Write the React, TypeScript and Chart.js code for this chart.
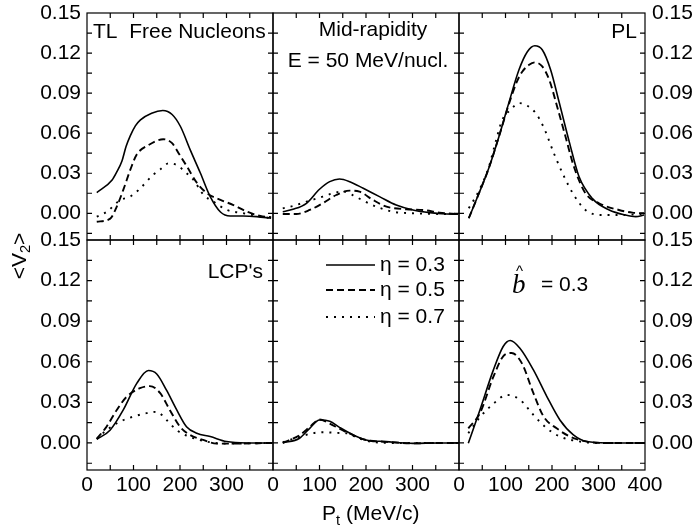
import React, { useEffect, useRef } from "react";
import { Chart, registerables } from "chart.js";

Chart.register(...registerables);

// ---------- ticks ----------
const X_TICKS = [0, 100, 200, 300, 400];
const X_MINOR = [50, 100, 150, 200, 250, 300, 350];
const Y_TICKS = [0, 0.03, 0.06, 0.09, 0.12, 0.15];
const Y_MINOR = [-0.015, 0, 0.015, 0.03, 0.045, 0.06, 0.075, 0.09, 0.105, 0.12, 0.135];
const ETA_LABELS = ["η = 0.3", "η = 0.5", "η = 0.7"];

type Pt = [number, number];

// ---------- TL free nucleons (top-left) ----------
const TL_ETA03: Pt[] = [[21, 0.0155], [54, 0.025], [64, 0.031], [75, 0.039], [84, 0.05], [93, 0.058], [104, 0.0655], [115, 0.07], [139, 0.075], [163, 0.077], [183, 0.074], [201, 0.065], [222, 0.0475], [244, 0.03], [265, 0.0125], [287, 0.001], [308, -0.002], [336, -0.002], [365, -0.0025], [396, -0.0037]];
const TL_ETA05: Pt[] = [[21, -0.0063], [50, -0.004], [64, 0.005], [78, 0.0175], [93, 0.0325], [107, 0.044], [132, 0.051], [164, 0.0555], [183, 0.0525], [197, 0.045], [215, 0.035], [237, 0.0225], [258, 0.015], [287, 0.01], [315, 0.0062], [344, 0.0012], [373, -0.002], [396, -0.003]];
const TL_ETA07: Pt[] = [[21, -0.0025], [42, 0.001], [72, 0.01], [93, 0.0125], [111, 0.0175], [143, 0.029], [158, 0.033], [176, 0.0375], [194, 0.036], [211, 0.031], [229, 0.025], [251, 0.0137], [272, 0.0087], [301, 0.0025], [337, 0], [373, -0.0025], [396, -0.0037]];

// ---------- Mid-rapidity free (top-middle) ----------
const MID_ETA03: Pt[] = [[21, 0.0012], [43, 0.003], [72, 0.0075], [100, 0.018], [122, 0.0237], [143, 0.0257], [165, 0.0237], [194, 0.0187], [229, 0.0125], [265, 0.0062], [301, 0.0025], [337, 0.0005], [373, -0.0005], [398, -0.0007]];
const MID_ETA05: Pt[] = [[21, -0.0005], [50, -0.0005], [79, 0.0025], [107, 0.0075], [136, 0.0137], [165, 0.017], [186, 0.0162], [215, 0.01], [244, 0.005], [287, 0.003], [323, 0.0025], [358, 0.0005], [398, -0.0007]];
const MID_ETA07: Pt[] = [[21, 0.0037], [43, 0.0055], [72, 0.0087], [107, 0.0125], [129, 0.015], [150, 0.0165], [172, 0.0135], [194, 0.0095], [222, 0.005], [258, 0.0012], [301, 0], [358, -0.0005], [398, -0.0007]];

// ---------- PL free (top-right) ----------
const PL_ETA03: Pt[] = [[21, -0.0037], [43, 0.015], [64, 0.0337], [86, 0.0575], [107, 0.0825], [129, 0.1075], [147, 0.121], [163, 0.1255], [179, 0.1225], [197, 0.1075], [215, 0.0837], [237, 0.0537], [258, 0.0275], [287, 0.011], [323, 0.0025], [358, -0.0013], [380, -0.0025], [398, -0.0013]];
const PL_ETA05: Pt[] = [[21, -0.0037], [43, 0.015], [64, 0.0337], [86, 0.0575], [107, 0.0815], [125, 0.099], [136, 0.106], [150, 0.111], [163, 0.113], [179, 0.11], [194, 0.1], [211, 0.08], [229, 0.0575], [247, 0.035], [272, 0.015], [301, 0.0075], [344, 0.0025], [373, 0.0005], [398, 0]];
const PL_ETA07: Pt[] = [[21, 0.0037], [43, 0.017], [64, 0.0345], [80, 0.055], [93, 0.07], [111, 0.0775], [129, 0.0825], [147, 0.0805], [165, 0.075], [183, 0.0637], [204, 0.045], [226, 0.0275], [247, 0.0137], [272, 0.0025], [305, -0.0013], [341, -0.0013], [398, -0.0005]];

// ---------- LCP's TL (bottom-left) ----------
const LCP_ETA03: Pt[] = [[21, 0.0027], [50, 0.0096], [78, 0.0244], [107, 0.044], [132, 0.0535], [150, 0.051], [171, 0.039], [193, 0.0244], [214, 0.012], [236, 0.0072], [265, 0.0047], [300, 0.001], [343, 0], [398, 0]];
const LCP_ETA05: Pt[] = [[21, 0.003], [42, 0.012], [64, 0.0244], [85, 0.034], [114, 0.0405], [135, 0.042], [157, 0.037], [178, 0.0244], [200, 0.012], [221, 0.006], [250, 0.0022], [279, -0.0005], [315, -0.0005], [398, 0]];
const LCP_ETA07: Pt[] = [[21, 0.003], [42, 0.0094], [71, 0.0158], [100, 0.0195], [128, 0.022], [150, 0.023], [171, 0.017], [193, 0.0094], [221, 0.0045], [257, 0.001], [300, -0.0005], [398, 0]];

// ---------- LCP's mid-rapidity (bottom-middle) ----------
const LMID_ETA03: Pt[] = [[21, 0], [57, 0.0035], [79, 0.0108], [100, 0.017], [122, 0.016], [143, 0.0115], [172, 0.006], [200, 0.0022], [243, 0.001], [301, -0.0003], [358, 0], [400, 0]];
const LMID_ETA05: Pt[] = [[21, 0], [57, 0.0057], [79, 0.0118], [100, 0.0173], [122, 0.0143], [143, 0.0105], [172, 0.0058], [200, 0.0022], [243, 0.0008], [301, -0.0003], [358, 0], [400, 0]];
const LMID_ETA07: Pt[] = [[21, 0.0005], [57, 0.0045], [86, 0.0072], [107, 0.0079], [143, 0.0074], [157, 0.0072], [186, 0.0032], [215, 0.0007], [260, 0], [400, 0]];

// ---------- LCP's PL (bottom-right) ----------
const LPL_ETA03: Pt[] = [[20, -0.0003], [45, 0.0244], [74, 0.054], [95, 0.0713], [110, 0.0757], [131, 0.07], [160, 0.054], [189, 0.0343], [217, 0.017], [246, 0.006], [275, 0.001], [318, 0], [400, 0]];
const LPL_ETA05: Pt[] = [[20, 0.0108], [45, 0.022], [74, 0.049], [95, 0.064], [113, 0.0665], [135, 0.059], [160, 0.0368], [182, 0.0195], [210, 0.0108], [239, 0.0047], [275, 0.001], [318, 0], [400, 0]];
const LPL_ETA07: Pt[] = [[20, 0.0072], [45, 0.019], [74, 0.029], [103, 0.0355], [131, 0.032], [160, 0.0207], [189, 0.0108], [217, 0.0047], [261, 0.001], [300, 0], [400, 0]];

const PANEL_SERIES: Pt[][][] = [
  [TL_ETA03, TL_ETA05, TL_ETA07],
  [MID_ETA03, MID_ETA05, MID_ETA07],
  [PL_ETA03, PL_ETA05, PL_ETA07],
  [LCP_ETA03, LCP_ETA05, LCP_ETA07],
  [LMID_ETA03, LMID_ETA05, LMID_ETA07],
  [LPL_ETA03, LPL_ETA05, LPL_ETA07],
];

const DASHES: number[][] = [[], [7, 4], [2, 6]];
const WIDTHS = [1.6, 1.9, 1.9];

const FONT = "Liberation Sans, Arial, Helvetica, sans-serif";
const FS = 21;

// panel geometry (plot area edges in px)
const COL_X = [87, 273, 459, 645];
const ROW_Y = [13, 240, 470];
const W = 698;
const H = 531;

function drawAnnotations(chart: any, idx: number) {
  const ctx: CanvasRenderingContext2D = chart.ctx;
  ctx.save();
  ctx.fillStyle = "#000";
  ctx.textBaseline = "middle";
  ctx.font = `${FS}px ${FONT}`;
  if (idx === 0) {
    ctx.textAlign = "left";
    ctx.fillText("TL  Free Nucleons", 93, 32);
    // y axis title
    ctx.save();
    ctx.translate(20, 256);
    ctx.rotate(-Math.PI / 2);
    ctx.textAlign = "left";
    const w1 = ctx.measureText("<V").width;
    ctx.font = `${FS * 0.7}px ${FONT}`;
    const w2 = ctx.measureText("2").width;
    ctx.font = `${FS}px ${FONT}`;
    const w3 = ctx.measureText(">").width;
    const tot = w1 + w2 + w3;
    let x = -tot / 2;
    ctx.fillText("<V", x, 0);
    x += w1;
    ctx.font = `${FS * 0.7}px ${FONT}`;
    ctx.fillText("2", x, 6);
    x += w2;
    ctx.font = `${FS}px ${FONT}`;
    ctx.fillText(">", x, 0);
    ctx.restore();
    // x axis title
    ctx.textAlign = "left";
    ctx.font = `${FS}px ${FONT}`;
    let xx = 322;
    ctx.fillText("P", xx, 514);
    xx += ctx.measureText("P").width;
    ctx.font = `${FS * 0.7}px ${FONT}`;
    ctx.fillText("t", xx, 521);
    xx += ctx.measureText("t").width;
    ctx.font = `${FS}px ${FONT}`;
    ctx.fillText(" (MeV/c)", xx, 514);
  } else if (idx === 1) {
    ctx.textAlign = "center";
    ctx.fillText("Mid-rapidity", 373, 30);
    ctx.fillText("E = 50 MeV/nucl.", 368, 61);
  } else if (idx === 2) {
    ctx.textAlign = "right";
    ctx.fillText("PL", 637, 32);
  } else if (idx === 3) {
    ctx.textAlign = "right";
    ctx.fillText("LCP's", 263, 272);
  } else if (idx === 4) {
    const ys = [265, 290, 317];
    ys.forEach((y, i) => {
      ctx.save();
      ctx.strokeStyle = "#000";
      ctx.lineWidth = WIDTHS[i];
      ctx.setLineDash(DASHES[i]);
      ctx.beginPath();
      ctx.moveTo(326, y);
      ctx.lineTo(375, y);
      ctx.stroke();
      ctx.restore();
      ctx.textAlign = "left";
      ctx.fillText(ETA_LABELS[i], 380, y);
    });
  } else if (idx === 5) {
    ctx.textAlign = "left";
    ctx.font = `italic 27px Liberation Serif, Times New Roman, serif`;
    ctx.fillText("b", 512, 286);
    ctx.font = `15px ${FONT}`;
    ctx.fillText("^", 516, 272);
    ctx.font = `${FS}px ${FONT}`;
    ctx.fillText("= 0.3", 541, 285);
  }
  ctx.restore();
}

function framePlugin(idx: number) {
  return {
    id: "frame" + idx,
    afterDraw(chart: any) {
      const { ctx, chartArea: a, scales } = chart;
      const xs = scales.x;
      const ys = scales.y;
      ctx.save();
      ctx.strokeStyle = "#000";
      ctx.lineWidth = 1.2;
      ctx.setLineDash([]);
      ctx.strokeRect(a.left, a.top, a.right - a.left, a.bottom - a.top);
      ctx.beginPath();
      X_MINOR.forEach((v) => {
        const px = xs.getPixelForValue(v);
        ctx.moveTo(px, a.top);
        ctx.lineTo(px, a.top + 5);
        ctx.moveTo(px, a.bottom);
        ctx.lineTo(px, a.bottom - 5);
      });
      Y_MINOR.forEach((v) => {
        const py = ys.getPixelForValue(v);
        ctx.moveTo(a.left, py);
        ctx.lineTo(a.left + 5, py);
        ctx.moveTo(a.right, py);
        ctx.lineTo(a.right - 5, py);
      });
      ctx.stroke();
      ctx.restore();
      drawAnnotations(chart, idx);
    },
  };
}

function makeChart(canvas: HTMLCanvasElement, idx: number) {
  const r = Math.floor(idx / 3);
  const c = idx % 3;
  const left = COL_X[c];
  const right = W - COL_X[c + 1];
  const top = ROW_Y[r];
  const bottom = H - ROW_Y[r + 1];
  // axes that show labels take the whole margin so that labels are not clipped
  const yShows = c !== 1;
  const yOnRight = c === 2;
  const yWidth = yShows ? (yOnRight ? right : left) : 0;
  const xShows = r === 1;
  const xHeight = xShows ? bottom : 0;
  const pad = {
    left: yShows && !yOnRight ? 0 : left,
    right: yShows && yOnRight ? 0 : right,
    top,
    bottom: xShows ? 0 : bottom,
  };
  const series = PANEL_SERIES[idx];
  return new Chart(canvas, {
    type: "line",
    data: {
      datasets: series.map((s, i) => ({
        label: ETA_LABELS[i],
        data: s.map(([x, y]) => ({ x, y })),
        borderColor: "#000",
        borderWidth: WIDTHS[i],
        borderDash: DASHES[i],
        pointRadius: 0,
        cubicInterpolationMode: "monotone" as const,
        fill: false,
      })),
    },
    options: {
      responsive: false,
      animation: false,
      events: [],
      layout: { padding: pad },
      plugins: { legend: { display: false }, tooltip: { enabled: false } },
      scales: {
        x: {
          type: "linear",
          min: 0,
          max: 400,
          grid: { display: false, drawTicks: false },
          border: { display: false },
          afterBuildTicks: (s: any) => {
            s.ticks = X_TICKS.map((v) => ({ value: v }));
          },
          afterFit: (s: any) => {
            s.height = xHeight;
            s.paddingLeft = 0;
            s.paddingRight = 0;
          },
          ticks: {
            display: xShows,
            padding: 3,
            color: "#000",
            autoSkip: false,
            maxRotation: 0,
            font: { family: FONT, size: FS },
            callback: (v: any) => (c < 2 && v === 400 ? "" : String(v)),
          },
        },
        y: {
          type: "linear",
          position: yOnRight ? "right" : "left",
          min: -0.02,
          max: 0.15,
          grid: { display: false, drawTicks: false },
          border: { display: false },
          afterBuildTicks: (s: any) => {
            s.ticks = Y_TICKS.map((v) => ({ value: v }));
          },
          afterFit: (s: any) => {
            s.width = yWidth;
            s.paddingTop = 0;
            s.paddingBottom = 0;
          },
          ticks: {
            display: yShows,
            padding: yOnRight ? 7 : 6,
            color: "#000",
            autoSkip: false,
            font: { family: FONT, size: FS },
            callback: (v: any) => Number(v).toFixed(2),
          },
        },
      },
    },
    plugins: [framePlugin(idx)],
  } as any);
}

export default function App() {
  const refs = useRef<(HTMLCanvasElement | null)[]>([]);
  useEffect(() => {
    const charts = refs.current.map((cv, i) => (cv ? makeChart(cv, i) : null));
    return () => {
      charts.forEach((ch) => ch && ch.destroy());
    };
  }, []);
  return (
    <div style={{ position: "absolute", left: 0, top: 0, width: W, height: H, background: "#fff" }}>
      {[0, 1, 2, 3, 4, 5].map((i) => (
        <canvas
          key={i}
          ref={(el) => {
            refs.current[i] = el;
          }}
          width={W}
          height={H}
          style={{ position: "absolute", left: 0, top: 0, width: W, height: H }}
        />
      ))}
    </div>
  );
}
